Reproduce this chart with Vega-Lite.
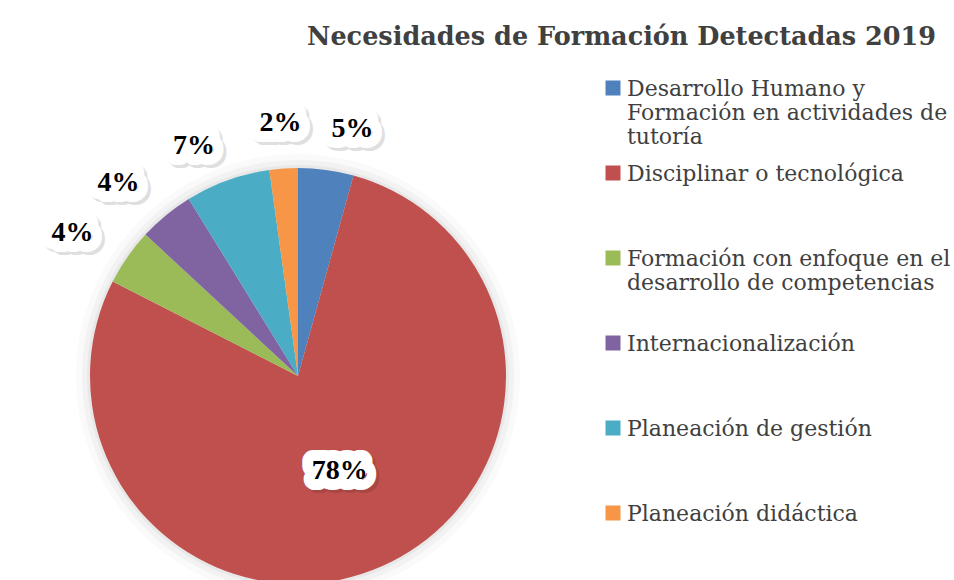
{
  "$schema": "https://vega.github.io/schema/vega-lite/v6.json",
  "width": 596,
  "height": 752,
  "autosize": {"type": "none"},
  "padding": {"left": 0, "top": 0, "right": 358, "bottom": -172},
  "background": "#ffffff",
  "title": {
    "text": "Necesidades de Formación Detectadas 2019",
    "anchor": "end",
    "frame": "group",
    "orient": "top",
    "font": "DejaVu Serif",
    "fontSize": 25.5,
    "fontWeight": "bold",
    "color": "#404040",
    "baseline": "alphabetic",
    "offset": -70,
    "dx": 340
  },
  "config": {"view": {"stroke": null}},
  "data": {
    "values": [
      {"categoria": "Desarrollo Humano y Formación en actividades de tutoría", "valor": 4.3, "etiqueta": "5%"},
      {"categoria": "Disciplinar o tecnológica", "valor": 78.2, "etiqueta": "78%"},
      {"categoria": "Formación con enfoque en el desarrollo de competencias", "valor": 4.4, "etiqueta": "4%"},
      {"categoria": "Internacionalización", "valor": 4.3, "etiqueta": "4%"},
      {"categoria": "Planeación de gestión", "valor": 6.6, "etiqueta": "7%"},
      {"categoria": "Planeación didáctica", "valor": 2.2, "etiqueta": "2%"}
    ]
  },
  "layer": [
    {
      "data": {"values": [{}]},
      "mark": {"type": "arc", "radius": 222, "fill": "#000000", "fillOpacity": 0.02},
      "encoding": {}
    },
    {
      "data": {"values": [{}]},
      "mark": {"type": "arc", "radius": 216, "fill": "#000000", "fillOpacity": 0.03},
      "encoding": {}
    },
    {
      "data": {"values": [{}]},
      "mark": {"type": "arc", "radius": 211, "fill": "#000000", "fillOpacity": 0.04},
      "encoding": {}
    },
    {
      "mark": {"type": "arc", "radius": 208},
      "encoding": {
        "theta": {"field": "valor", "type": "quantitative", "stack": true},
        "order": {"field": "categoria", "type": "ordinal"},
        "color": {
          "field": "categoria",
          "type": "nominal",
          "scale": {"range": ["#4F81BD", "#C0504D", "#9BBB59", "#8064A2", "#4BACC6", "#F79646"]},
          "legend": {
            "orient": "none",
            "legendX": 602,
            "legendY": 68,
            "title": null,
            "padding": 0,
            "labelFont": "DejaVu Serif",
            "labelFontSize": 22,
            "labelColor": "#404040",
            "labelBaseline": "top",
            "labelLimit": 500,
            "labelOffset": 3,
            "symbolType": "M-1,0.2H1V2.2H-1Z",
            "symbolSize": 225,
            "symbolStrokeWidth": 0,
            "rowPadding": 5,
            "labelExpr": "datum.label == 'Desarrollo Humano y Formación en actividades de tutoría' ? ['Desarrollo Humano y', 'Formación en actividades de', 'tutoría'] : datum.label == 'Formación con enfoque en el desarrollo de competencias' ? ['Formación con enfoque en el', 'desarrollo de competencias', ''] : [datum.label, '', '']"
          }
        }
      }
    },
    {
      "mark": {"type": "text", "font": "Liberation Serif", "fontSize": 28, "fontWeight": "bold", "fill": "#000000", "stroke": "#000000", "strokeWidth": 22, "strokeJoin": "round", "opacity": 0.12, "dx": 3, "dy": 3,
        "align": {"expr": "datum.valor > 50 ? 'center' : ((datum.valor_start + datum.valor_end) / 2 > 98.5 ? 'center' : ((datum.valor_start + datum.valor_end) / 2 < 50 ? 'left' : 'right'))"}},
      "encoding": {
        "theta": {"field": "valor", "type": "quantitative", "stack": true},
        "order": {"field": "categoria", "type": "ordinal"},
        "detail": {"field": "categoria", "type": "nominal"},
        "radius": {"field": "valor", "type": "quantitative", "scale": {"type": "linear", "domain": [0, 80], "range": [258, 100], "zero": false}},
        "text": {"field": "etiqueta", "type": "nominal"}
      }
    },
    {
      "mark": {"type": "text", "font": "Liberation Serif", "fontSize": 28, "fontWeight": "bold", "fill": "#ffffff", "stroke": "#ffffff", "strokeWidth": 22, "strokeJoin": "round",
        "align": {"expr": "datum.valor > 50 ? 'center' : ((datum.valor_start + datum.valor_end) / 2 > 98.5 ? 'center' : ((datum.valor_start + datum.valor_end) / 2 < 50 ? 'left' : 'right'))"}},
      "encoding": {
        "theta": {"field": "valor", "type": "quantitative", "stack": true},
        "order": {"field": "categoria", "type": "ordinal"},
        "detail": {"field": "categoria", "type": "nominal"},
        "radius": {"field": "valor", "type": "quantitative", "scale": {"type": "linear", "domain": [0, 80], "range": [258, 100], "zero": false}},
        "text": {"field": "etiqueta", "type": "nominal"}
      }
    },
    {
      "mark": {"type": "text", "font": "Liberation Serif", "fontSize": 28, "fontWeight": "bold", "fill": "#000000",
        "align": {"expr": "datum.valor > 50 ? 'center' : ((datum.valor_start + datum.valor_end) / 2 > 98.5 ? 'center' : ((datum.valor_start + datum.valor_end) / 2 < 50 ? 'left' : 'right'))"}},
      "encoding": {
        "theta": {"field": "valor", "type": "quantitative", "stack": true},
        "order": {"field": "categoria", "type": "ordinal"},
        "detail": {"field": "categoria", "type": "nominal"},
        "radius": {"field": "valor", "type": "quantitative", "scale": {"type": "linear", "domain": [0, 80], "range": [258, 100], "zero": false}},
        "text": {"field": "etiqueta", "type": "nominal"}
      }
    }
  ]
}
